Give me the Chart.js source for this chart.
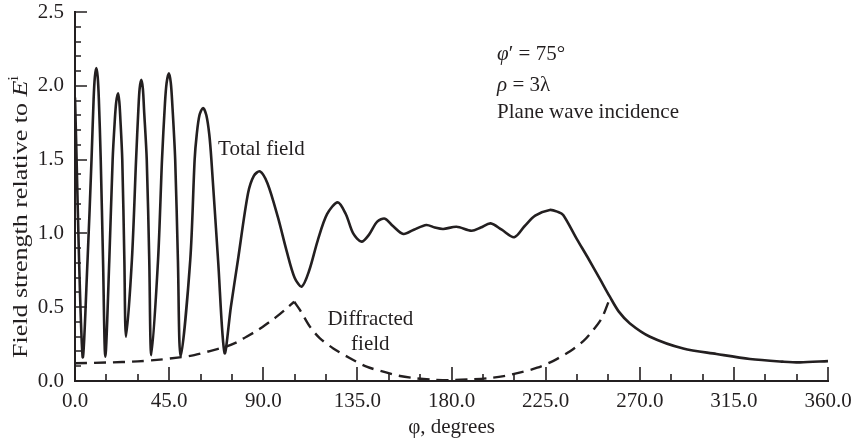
<!DOCTYPE html>
<html>
<head>
<meta charset="utf-8">
<script src="https://cdn.jsdelivr.net/npm/chart.js@4.4.1/dist/chart.umd.min.js"></script>
<style>
html,body{margin:0;padding:0;background:#ffffff;}
#wrap{width:858px;height:442px;}
</style>
</head>
<body>
<div id="wrap"><canvas id="c" width="858" height="442"></canvas></div>
<script>
// ---------------- data ----------------
const totalPhi = [0, 3.6,
  6.0, 7.9, 8.9, 9.5, 10.2, 10.85, 11.4, 12.3, 13.4, 14.5,
  16.4, 18.0, 19.0, 19.7, 20.6, 21.2, 21.6, 22.6, 23.6, 24.4,
  27.2, 29.2, 30.3, 30.9, 31.7, 32.45, 33.0, 34.3, 35.5, 36.5,
  39.7, 41.6, 43.0, 43.8, 44.9, 45.8, 46.5, 47.9, 49.2, 50.5,
  55.1, 57.2, 58.2, 59.5, 61.2, 62.8, 64.2, 65.2, 68.4, 71.5,
  74.5, 77.9, 82.7, 85.5, 88.4, 92, 97, 101.2, 105, 108.4,
  112, 116, 120.5, 125.6, 129.5, 133, 137, 140.5, 144.5, 148.2, 152, 157, 162, 168, 172, 176, 182.4,
  189.6, 194, 198.7, 204, 210, 215, 220, 227, 231, 233.4, 240, 245, 251, 255.7, 260, 265.3, 274.9,
  290.8, 306.7, 322.7, 338.6, 346.6, 360];
const totalField = [1.92, 0.17,
  0.82, 1.5, 1.91, 2.06, 2.12, 2.06, 1.91, 1.5, 0.82, 0.165,
  0.82, 1.5, 1.76, 1.89, 1.95, 1.89, 1.8, 1.5, 0.82, 0.30,
  0.82, 1.5, 1.84, 1.98, 2.04, 1.98, 1.84, 1.5, 0.82, 0.175,
  0.82, 1.5, 1.88, 2.02, 2.085, 2.02, 1.88, 1.5, 0.82, 0.165,
  0.82, 1.5, 1.67, 1.8, 1.85, 1.8, 1.67, 1.5, 0.82, 0.19,
  0.5, 0.82, 1.27, 1.39, 1.42, 1.34, 1.11, 0.88, 0.70, 0.64,
  0.75, 0.95, 1.13, 1.21, 1.13, 1.0, 0.944, 0.99, 1.08, 1.10, 1.05, 0.996, 1.025, 1.057, 1.04, 1.03, 1.045,
  1.018, 1.04, 1.068, 1.025, 0.974, 1.05, 1.12, 1.159, 1.145, 1.125, 0.96, 0.84, 0.69, 0.571, 0.47, 0.39, 0.30,
  0.22, 0.183, 0.149, 0.131, 0.126, 0.135];

// diffracted field, rising branch (up to the shadow boundary near 105 deg)
const diffRisePhi = [0, 15, 30, 40.6, 50, 57, 64.5, 71.5, 77, 82, 88, 93, 96.4, 101, 104.8];
const diffRise = [0.12, 0.125, 0.133, 0.145, 0.16, 0.175, 0.203, 0.23, 0.26, 0.30, 0.35, 0.40, 0.436, 0.49, 0.537];
// diffracted field, second branch (from the cusp to the other shadow boundary near 255 deg)
const diffFallPhi = [104.8, 107.6, 112.3, 117.1, 123.5, 131.5, 139.4, 147.4, 155.4, 163.3, 171, 179.3, 188, 197, 205,
  213, 221, 228.5, 236.5, 243, 248, 252, 255.7];
const diffFall = [0.537, 0.48, 0.368, 0.289, 0.221, 0.154, 0.097, 0.063, 0.034, 0.018, 0.009, 0.006, 0.01, 0.018, 0.033,
  0.058, 0.09, 0.135, 0.2, 0.27, 0.35, 0.43, 0.56];

// axis ticks
const xMajorTicks = [0, 45, 90, 135, 180, 225, 270, 315, 360];
const xMinorTicks = [15, 30, 60, 75, 105, 120, 150, 165, 195, 210, 240, 255, 285, 300, 330, 345];
const yMajorTicks = [0.5, 1.0, 1.5, 2.0, 2.5];
const yMinorTicks = [0.1, 0.2, 0.3, 0.4, 0.6, 0.7, 0.8, 0.9, 1.1, 1.2, 1.3, 1.4, 1.6, 1.7, 1.8, 1.9, 2.1, 2.2, 2.3, 2.4];

// labels
const xAxisTitle = 'φ, degrees';
const yAxisTitle = 'Field strength relative to ';
const labelTotal = 'Total field';
const labelDiff1 = 'Diffracted';
const labelDiff2 = 'field';
const infoLines = [
  [{t: 'φ', it: true}, {t: '′ = 75°'}],
  [{t: 'ρ', it: true}, {t: ' = 3λ'}],
  [{t: 'Plane wave incidence'}]
];

// ---------------- drawing ----------------
const INK = '#231f20';
const SERIF = "'Liberation Serif', 'Times New Roman', 'DejaVu Serif', serif";
const FS = 21;

const zip = (xs, ys) => xs.map((x, i) => ({x: x, y: ys[i]}));

function drawRich(ctx, x, y, parts, size) {
  let cx = x;
  parts.forEach(p => {
    ctx.font = (p.it ? 'italic ' : '') + (p.size || size) + 'px ' + SERIF;
    ctx.fillText(p.t, cx, y + (p.dy || 0));
    cx += ctx.measureText(p.t).width;
  });
  return cx - x;
}
function richWidth(ctx, parts, size) {
  let w = 0;
  parts.forEach(p => {
    ctx.font = (p.it ? 'italic ' : '') + (p.size || size) + 'px ' + SERIF;
    w += ctx.measureText(p.t).width;
  });
  return w;
}

const decor = {
  id: 'decor',
  afterDraw(chart) {
    const ctx = chart.ctx;
    const xs = chart.scales.x, ys = chart.scales.y;
    const area = chart.chartArea;
    ctx.save();
    ctx.strokeStyle = INK;
    ctx.lineWidth = 1.6;
    ctx.beginPath();
    xMajorTicks.forEach(v => { const p = Math.round(xs.getPixelForValue(v)); ctx.moveTo(p, area.bottom); ctx.lineTo(p, area.bottom - 14); });
    xMinorTicks.forEach(v => { const p = Math.round(xs.getPixelForValue(v)); ctx.moveTo(p, area.bottom); ctx.lineTo(p, area.bottom - 7); });
    yMajorTicks.forEach(v => { const p = Math.round(ys.getPixelForValue(v)); ctx.moveTo(area.left, p); ctx.lineTo(area.left + 12, p); });
    yMinorTicks.forEach(v => { const p = Math.round(ys.getPixelForValue(v)); ctx.moveTo(area.left, p); ctx.lineTo(area.left + 6, p); });
    ctx.stroke();

    ctx.fillStyle = INK;
    ctx.textBaseline = 'alphabetic';
    ctx.textAlign = 'left';
    // curve labels
    ctx.font = FS + 'px ' + SERIF;
    ctx.fillText(labelTotal, xs.getPixelForValue(68.4), ys.getPixelForValue(1.531));
    ctx.textAlign = 'center';
    ctx.fillText(labelDiff1, xs.getPixelForValue(141.2), ys.getPixelForValue(0.379));
    ctx.fillText(labelDiff2, xs.getPixelForValue(141.2), ys.getPixelForValue(0.21));
    ctx.textAlign = 'left';
    // parameter block
    const bx = xs.getPixelForValue(201.8);
    const baseVals = [2.175, 1.965, 1.785];
    infoLines.forEach((ln, i) => drawRich(ctx, bx, ys.getPixelForValue(baseVals[i]), ln, FS));

    // y axis title (rotated) with italic E and superscript i
    const TS = 26;
    const parts = [{t: yAxisTitle}, {t: 'E', it: true}, {t: 'i', size: 17, dy: -11}];
    const w = richWidth(ctx, parts, TS);
    ctx.translate(27, 217 + w / 2);
    ctx.rotate(-Math.PI / 2);
    ctx.scale(1, 0.8);
    drawRich(ctx, 0, 0, parts, TS);
    ctx.restore();
  }
};

new Chart(document.getElementById('c'), {
  type: 'line',
  data: {
    datasets: [
      {label: 'Total field', data: zip(totalPhi, totalField), borderColor: INK, borderWidth: 2.6,
       pointRadius: 0, tension: 0.3, fill: false},
      {label: 'Diffracted field', data: zip(diffRisePhi, diffRise), borderColor: INK, borderWidth: 2.4,
       borderDash: [12, 7], pointRadius: 0, tension: 0.3, fill: false},
      {label: 'Diffracted field (2)', data: zip(diffFallPhi, diffFall), borderColor: INK, borderWidth: 2.4,
       borderDash: [12, 7], pointRadius: 0, tension: 0.3, fill: false}
    ]
  },
  options: {
    responsive: false,
    animation: false,
    devicePixelRatio: 1,
    layout: {padding: {left: 0, right: 30, top: 12, bottom: 0}},
    plugins: {legend: {display: false}, tooltip: {enabled: false}},
    scales: {
      x: {
        type: 'linear', min: 0, max: 360,
        grid: {display: false, drawTicks: false},
        border: {display: true, color: INK, width: 2},
        ticks: {stepSize: 45, autoSkip: false, maxRotation: 0, padding: 8, color: INK,
                font: {family: SERIF, size: FS}, callback: v => Number(v).toFixed(1)},
        title: {display: true, text: xAxisTitle, color: INK, font: {family: SERIF, size: FS}, padding: {top: 0, bottom: 2}},
        afterFit: s => { s.height = 61; s.paddingLeft = 0; s.paddingRight = 0; }
      },
      y: {
        type: 'linear', min: 0, max: 2.5,
        grid: {display: false, drawTicks: false},
        border: {display: true, color: INK, width: 2},
        ticks: {stepSize: 0.5, padding: 11, color: INK,
                font: {family: SERIF, size: FS}, callback: v => Number(v).toFixed(1)},
        afterFit: s => { s.width = 75; s.paddingTop = 0; s.paddingBottom = 0; }
      }
    }
  },
  plugins: [decor]
});
</script>
</body>
</html>
